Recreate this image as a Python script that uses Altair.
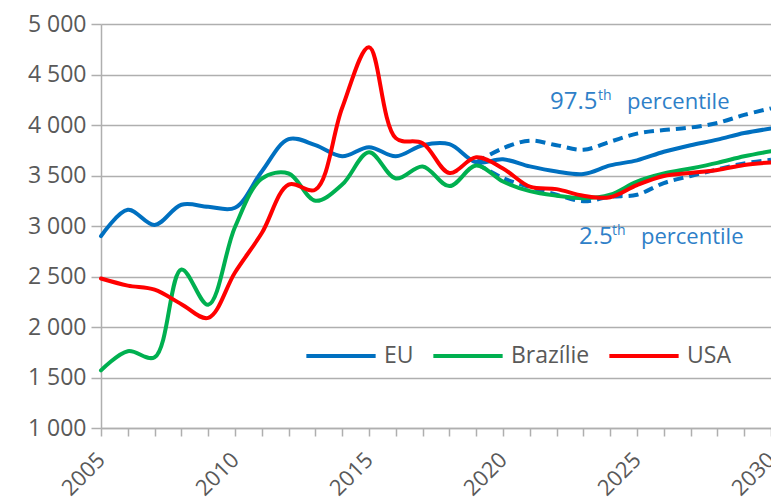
import altair as alt
import pandas as pd

# ---------------- data ----------------
years = list(range(2005, 2031))
eu = [2900, 3160, 3010, 3210, 3190, 3180, 3540, 3860, 3800, 3690, 3780, 3690, 3800,
      3810, 3630, 3660, 3590, 3540, 3515, 3600, 3650, 3735, 3800, 3855, 3920, 3965]
brazil = [1570, 1760, 1700, 2570, 2220, 2990, 3470, 3520, 3250, 3410, 3730, 3470, 3590,
          3395, 3600, 3440, 3345, 3300, 3275, 3310, 3440, 3520, 3570, 3625, 3690, 3740]
usa = [2480, 2410, 2370, 2226, 2090, 2540, 2930, 3410, 3360, 4170, 4770, 3870, 3820,
       3525, 3680, 3570, 3390, 3365, 3300, 3285, 3405, 3495, 3525, 3555, 3605, 3630]

proj_years = list(range(2019, 2031))
p975 = [3630, 3770, 3845, 3800, 3755, 3835, 3915, 3950, 3975, 4020, 4100, 4165]
p025 = [3620, 3475, 3385, 3310, 3245, 3290, 3310, 3425, 3495, 3560, 3620, 3655]

series_names = ["EU", "Brazílie", "USA"]
series_colors = ["#0070C0", "#00B050", "#FF0000"]
y_ticks = list(range(1000, 5001, 500))

rows = []
for name, vals in zip(series_names, [eu, brazil, usa]):
    for yr, v in zip(years, vals):
        rows.append({"rok": yr, "cena": v, "serie": name})
df = pd.DataFrame(rows)

prow = []
for name, vals in [("p975", p975), ("p025", p025)]:
    for yr, v in zip(proj_years, vals):
        prow.append({"rok": yr, "cena": v, "pct": name})
pdf = pd.DataFrame(prow)

FONT = "Open Sans"
GRAY = "#595959"
GRID = "#AFAFAF"
LBLUE = "#2E80C8"

x_scale = alt.Scale(domain=[2005, 2030], nice=False, zero=False)
y_scale = alt.Scale(domain=[1000, 5000], nice=False, zero=False)

x_axis = alt.Axis(
    values=years, format="d",
    labelExpr="datum.value % 5 == 0 ? datum.label : ''",
    labelAngle=-45, labelAlign="right", labelBaseline="middle",
    labelFont=FONT, labelFontSize=22, labelColor=GRAY, labelPadding=20,
    tickSize=8, tickColor=GRID, tickWidth=1.5,
    domainColor=GRID, domainWidth=1.5, grid=False, title=None,
    labelOverlap=False, labelBound=False, labelFlush=False,
)
y_axis = alt.Axis(
    values=y_ticks, format=",d",
    labelExpr="replace(datum.label, ',', ' ')",
    labelFont=FONT, labelFontSize=23, labelColor=GRAY, labelPadding=5,
    tickSize=10, tickColor=GRID, tickWidth=1.5,
    domainColor=GRID, domainWidth=1.5,
    grid=True, gridColor=GRID, gridWidth=1.5, title=None,
    labelOverlap=False,
)

base_x = alt.X("rok:Q", scale=x_scale, axis=x_axis)
base_y = alt.Y("cena:Q", scale=y_scale, axis=y_axis)

dashed = alt.Chart(pdf).mark_line(
    interpolate="catmull-rom", strokeWidth=4, strokeDash=[10, 6], color="#0070C0"
).encode(x=base_x, y=base_y, detail="pct:N")

lines = alt.Chart(df).mark_line(
    interpolate="catmull-rom", strokeWidth=4, strokeCap="round"
).encode(
    x=base_x, y=base_y,
    color=alt.Color(
        "serie:N",
        scale=alt.Scale(domain=series_names, range=series_colors),
        sort=series_names,
        legend=alt.Legend(
            orient="none", legendX=203, legendY=295, direction="horizontal",
            title=None, symbolType="stroke", symbolSize=4800, symbolStrokeWidth=4,
            labelFont=FONT, labelFontSize=23, labelColor=GRAY,
            columnPadding=11, labelOffset=6,
        ),
    ),
)


def txt(s, x, y, size):
    return alt.Chart(alt.Data(values=[{}])).mark_text(
        text=s, font=FONT, fontSize=size, color=LBLUE, align="left", baseline="alphabetic"
    ).encode(x=alt.value(x), y=alt.value(y))


labels = [
    txt("97.5", 449, 85, 24), txt("th", 497, 76, 14), txt("percentile", 526, 85, 22),
    txt("2.5", 478, 220, 24), txt("th", 511, 211, 14), txt("percentile", 540, 220, 22),
]

chart = alt.layer(dashed, lines, *labels).properties(
    width=670, height=404,
    autosize=alt.AutoSizeParams(type="none"),
    padding={"left": 93, "top": 16, "right": 0, "bottom": 75},
    background="white",
).configure_view(stroke=None)

chart.save("out.html", embed_options={"renderer": "svg", "actions": False})
